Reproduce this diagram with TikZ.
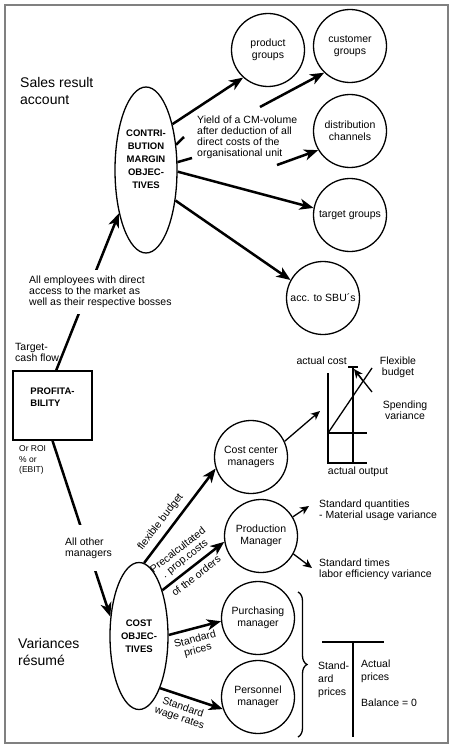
\documentclass[tikz,border=0pt]{standalone}
\usepackage{fontspec}
\setmainfont{Liberation Sans}
\usetikzlibrary{arrows.meta,shapes.geometric,decorations.pathreplacing}
\newcommand{\nf}{\fontsize{10.5}{11}\selectfont}
\newcommand{\bigf}{\fontsize{14}{17.5}\selectfont}
\newcommand{\smf}{\fontsize{8.5}{10.5}\selectfont}

\begin{document}
\begin{tikzpicture}[x=1pt,y=-1pt,
  mgr/.style={shape=circle,draw=black,line width=1.3pt,minimum size=73pt,inner sep=0pt,align=center,font=\fontsize{10.5}{12}\selectfont},
  obj/.style={shape=ellipse,draw=black,line width=1.3pt,inner sep=0pt,align=center,font=\fontsize{9.5}{13}\selectfont\bfseries},
  txt/.style={inner sep=0pt,align=left,font=\nf},
  arr/.style={line width=2.5pt,-{Stealth[length=14pt,width=11pt,inset=4pt]}},
  stub/.style={line width=2.5pt},
  thinarr/.style={line width=1.3pt,-{Stealth[length=9pt,width=8pt,inset=2.5pt]}},
  chart/.style={line width=1.3pt}]
  \useasboundingbox (0,0) rectangle (453,749);
  \draw[gray,line width=1.5pt] (5,5) rectangle (448,743);

  % sales side
  \node[txt,font=\bigf,anchor=west] (sales) at (20,91) {Sales result\\account};
  \node[obj,minimum width=62pt,minimum height=166pt] (cm) at (146,170) {CONTRI-\\BUTION\\MARGIN\\OBJEC-\\TIVES\\[8pt]};
  \node[mgr] (pg) at (268,50) {product\\groups};
  \node[mgr] (cust) at (350,46) {customer\\groups};
  \node[mgr] (dist) at (350,131) {distribution\\channels};
  \node[mgr] (tg) at (350,215) {target groups};
  \node[mgr] (sbu) at (323,298) {acc. to SBU´s};
  \node[txt,anchor=west] (yield) at (197,137) {Yield of a CM-volume\\after deduction of all\\direct costs of the\\organisational unit};

  \coordinate (c1) at (184,137);
  \coordinate (c2) at (260,107);
  \coordinate (d1) at (192,158);
  \coordinate (d2) at (277,165);

  \draw[arr] (cm.60) -- (pg.228);
  \draw[stub] (cm.40) -- (c1);
  \draw[arr] (c2) -- (cust.226);
  \draw[stub] (cm.14) -- (d1);
  \draw[arr] (d2) -- (dist.211);
  \draw[arr] (cm.357) -- (tg.169);
  \draw[arr] (cm.314) -- (sbu.151);

  % profitability
  \node[txt,anchor=west] (target) at (15,352) {Target-\\cash flow};
  \node[draw=black,line width=1.5pt,minimum width=79pt,minimum height=69pt,align=left,font=\fontsize{9.5}{12}\selectfont\bfseries] (prof) at (52.5,405.5) {PROFITA-\\BILITY\\[4pt]};
  \node[txt,font=\smf,anchor=west] (roi) at (19,460) {Or ROI\\\% or\\(EBIT)};
  \node[obj,minimum width=58pt,minimum height=147pt] (cost) at (139,636) {COST\\OBJEC-\\TIVES};

  \draw[arr] (prof.84) -- (cm.238);
  \node[txt,anchor=west,fill=white,inner xsep=3pt,inner ysep=6pt] (staff) at (26,292) {All employees with direct\\access to the market as\\well as their respective bosses};
  \draw[arr] (prof.south) -- (cost.146);
  \node[txt,anchor=west,fill=white,inner xsep=3pt,inner ysep=13pt] (others) at (62,548) {All other\\managers};

  % cost side
  \node[txt,font=\bigf,anchor=west] (var) at (18,652) {Variances\\résumé};
  \node[mgr] (ccm) at (251,457) {Cost center\\managers};
  \node[mgr] (prod) at (261,536) {Production\\Manager};
  \node[mgr] (purch) at (258,618) {Purchasing\\manager};
  \node[mgr] (pers) at (258,697) {Personnel\\manager};

  \draw[arr] (cost.86) -- node[sloped,above=2pt,pos=0.36,font=\nf] {flexible budget} (ccm.198);
  \draw[arr] (cost.63) -- node[sloped,above=1pt,pos=0.47,align=center,font=\nf] {Precalcultated\\. prop.costs} node[sloped,below=1pt,pos=0.45,font=\nf] {of the orders} (prod.189);
  \draw[arr] (cost.2) -- node[sloped,below=2pt,pos=0.45,align=center,font=\nf] {Standard\\prices} (purch.185);
  \draw[arr] (cost.292) -- node[sloped,below=2pt,pos=0.42,align=center,font=\nf] {Standard\\wage rates} (pers.199);

  % flexible budget chart
  \coordinate (cc) at (320,411);
  \draw[thinarr] (ccm.25) -- (cc);
  \draw[chart] (328,373) -- (328,463) -- (367,463);
  \draw[chart] (328,433) -- (367,433);
  \draw[chart] (353,463) -- (353,367);
  \draw[chart] (348,367) -- (358,367);
  \draw[chart] (328,433) -- (372,368);
  \draw[chart] (357,373) -- (372,392);
  \draw[thinarr] (363,381) -- (354,369);
  \node[txt,anchor=east] (acost) at (347,361) {actual cost};
  \node[txt,align=center] (flex) at (398,367) {Flexible\\budget};
  \node[txt,align=center] (spend) at (405,410) {Spending\\variance};
  \node[txt] (aout) at (358,472) {actual output};

  % production variances
  \coordinate (q) at (309,506);
  \coordinate (t) at (312,568);
  \node[txt,anchor=west] (qty) at (319,510.5) {Standard quantities\\- Material usage variance};
  \node[txt,anchor=west] (tim) at (319,569.5) {Standard times\\labor efficiency variance};
  \draw[thinarr] (prod.31) -- (q);
  \draw[thinarr] (prod.331) -- (t);

  % price account
  \draw[decorate,decoration={brace,amplitude=9pt},line width=1.3pt] (298,592) -- (298,737);
  \draw[chart] (322,642) -- (384,642);
  \draw[chart] (353,642) -- (353,737);
  \node[txt,anchor=west,font=\fontsize{10.5}{13}\selectfont] (std) at (318,680) {Stand-\\ard\\prices};
  \node[txt,anchor=west,font=\fontsize{10.5}{13}\selectfont] (act) at (361,671.5) {Actual\\prices};
  \node[txt,anchor=west] (bal) at (361,703) {Balance = 0};
\end{tikzpicture}
\end{document}
